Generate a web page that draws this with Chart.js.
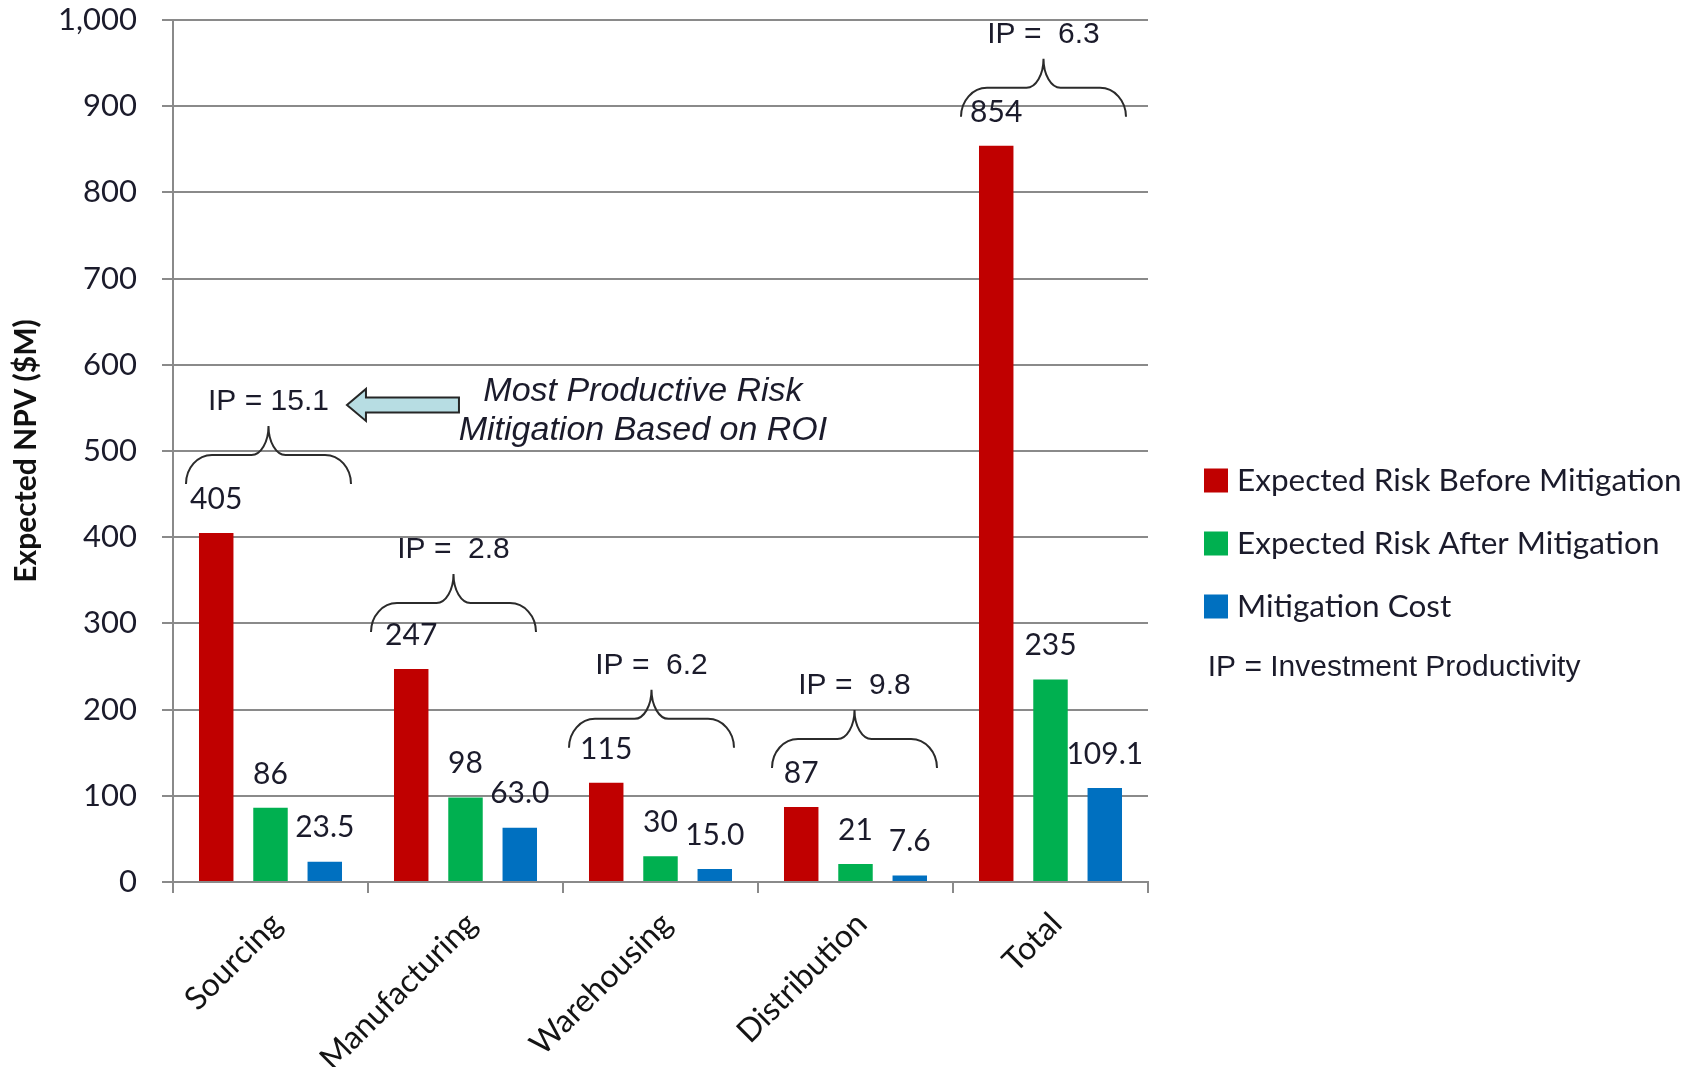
<!DOCTYPE html>
<html>
<head>
<meta charset="utf-8">
<title>Expected NPV by supply chain stage</title>
<script src="https://cdn.jsdelivr.net/npm/chart.js@4.4.1/dist/chart.umd.min.js"></script>
<style>
  html, body { margin: 0; padding: 0; background: #ffffff; }
  canvas { display: block; }
</style>
</head>
<body>
<canvas id="chart" width="1694" height="1075"></canvas>
<script>
// ---- data ----
const categories = ['Sourcing', 'Manufacturing', 'Warehousing', 'Distribution', 'Total'];
const seriesNames = ['Expected Risk Before Mitigation', 'Expected Risk After Mitigation', 'Mitigation Cost'];
const riskBefore = [405, 247, 115, 87, 854];
const riskAfter = [86, 98, 30, 21, 235];
const mitigationCost = [23.5, 63.0, 15.0, 7.6, 109.1];
const investmentProductivity = [15.1, 2.8, 6.2, 9.8, 6.3];
const valueDecimals = [0, 0, 1];
const yMin = 0;
const yMax = 1000;
const yStep = 100;
const axisTitle = 'Expected NPV ($M)';
const calloutLines = ['Most Productive Risk', 'Mitigation Based on ROI'];
const ipNote = 'IP = Investment Productivity';

// ---- styling ----
const seriesColors = ['#c00000', '#00b050', '#0070c0'];
const gridColor = '#8a8a8a';
const textColor = '#1b1b2b';
const bodyFont = 'Lato';
const noteFont = '"Liberation Sans", Arial, sans-serif';

// hand-placed nudges for the IP braces (pixels)
const braceNudgeX = [4, -6, -3, 5, -1];
const braceNudgeY = [-12, 0, 2, -2, 8];

// legend geometry
const legendFontSize = 31.5;
const legendPadding = 31.5;
const legendBoxWidth = 10.5;
const legendGap = 31.25;
const plotRight = 1148;

const measureCtx = document.createElement('canvas').getContext('2d');
measureCtx.font = legendFontSize + 'px ' + bodyFont;
const widestName = Math.max(...seriesNames.map(s => measureCtx.measureText(s).width));
const legendWidth = legendPadding + legendBoxWidth + legendFontSize / 2 + widestName + 10;
const rightPadding = Math.max(0, 1694 - plotRight - legendGap - legendWidth);

function ipText(v) {
  return 'IP = ' + (v < 10 ? ' ' : '') + v.toFixed(1);
}

// value labels, IP braces, callout arrow and note
const annotations = {
  id: 'annotations',
  afterDatasetsDraw(chart) {
    const ctx = chart.ctx;
    ctx.save();
    ctx.fillStyle = textColor;
    ctx.textAlign = 'center';
    ctx.textBaseline = 'middle';
    ctx.font = '30px ' + bodyFont;
    chart.data.datasets.forEach((ds, di) => {
      chart.getDatasetMeta(di).data.forEach((bar, i) => {
        ctx.fillText(ds.data[i].toFixed(valueDecimals[di]), bar.x, bar.y - 34);
      });
    });

    const first = chart.getDatasetMeta(0).data;
    const last = chart.getDatasetMeta(2).data;
    let sourcingLabel = null;
    first.forEach((rb, i) => {
      const bb = last[i];
      const L = rb.x - rb.width / 2 - 17 + braceNudgeX[i];
      const R = bb.x + bb.width / 2 + 5 + braceNudgeX[i];
      const T = rb.y - 37 + braceNudgeY[i], F = T - 29, K = F - 29, M = (L + R) / 2;
      const rx = 26, mx = 17, k = 0.552;
      ctx.strokeStyle = '#2b2b2b';
      ctx.lineWidth = 2;
      ctx.beginPath();
      ctx.moveTo(L, T);
      ctx.bezierCurveTo(L, T - k * (T - F), L + rx - k * rx, F, L + rx, F);
      ctx.lineTo(M - mx, F);
      ctx.bezierCurveTo(M - mx + k * mx, F, M, K + k * (F - K), M, K);
      ctx.bezierCurveTo(M, K + k * (F - K), M + mx - k * mx, F, M + mx, F);
      ctx.lineTo(R - rx, F);
      ctx.bezierCurveTo(R - rx + k * rx, F, R, T - k * (T - F), R, T);
      ctx.stroke();

      const label = ipText(investmentProductivity[i]);
      ctx.font = '30px ' + noteFont;
      ctx.fillStyle = textColor;
      ctx.fillText(label, M, K - 24);
      if (i === 0) {
        sourcingLabel = { right: M + ctx.measureText(label).width / 2, y: K - 24 };
      }
    });

    // arrow pointing at the best IP
    const tip = sourcingLabel.right + 18;
    const tail = tip + 112;
    const ay = sourcingLabel.y + 3;
    const sh = 7.5, hh = 16, hl = 19;
    ctx.beginPath();
    ctx.moveTo(tip, ay);
    ctx.lineTo(tip + hl, ay - hh);
    ctx.lineTo(tip + hl, ay - sh);
    ctx.lineTo(tail, ay - sh);
    ctx.lineTo(tail, ay + sh);
    ctx.lineTo(tip + hl, ay + sh);
    ctx.lineTo(tip + hl, ay + hh);
    ctx.closePath();
    ctx.fillStyle = '#b7dde3';
    ctx.fill();
    ctx.strokeStyle = '#262626';
    ctx.lineWidth = 2;
    ctx.stroke();

    ctx.fillStyle = textColor;
    ctx.font = 'italic 34px ' + noteFont;
    ctx.fillText(calloutLines[0], tail + 184, ay - 13);
    ctx.fillText(calloutLines[1], tail + 184, ay + 26);
    ctx.restore();
  },
  afterDraw(chart) {
    const boxes = chart.legend && chart.legend.legendHitBoxes;
    if (!boxes || !boxes.length) return;
    const hb = boxes[boxes.length - 1];
    const ctx = chart.ctx;
    ctx.save();
    ctx.fillStyle = textColor;
    ctx.font = '30px ' + noteFont;
    ctx.textAlign = 'left';
    ctx.textBaseline = 'middle';
    ctx.fillText(ipNote, hb.left - 3, hb.top + hb.height / 2 + 61);
    ctx.restore();
  }
};

const seriesData = [riskBefore, riskAfter, mitigationCost];

new Chart(document.getElementById('chart'), {
  type: 'bar',
  data: {
    labels: categories,
    datasets: seriesData.map((values, i) => ({
      label: seriesNames[i],
      data: values,
      backgroundColor: seriesColors[i],
      borderWidth: 0,
      categoryPercentage: 0.835,
      barPercentage: 0.635,
      yAxisID: 'y'
    }))
  },
  options: {
    responsive: false,
    animation: false,
    devicePixelRatio: 1,
    layout: { padding: { top: 20, bottom: 8, left: 0, right: rightPadding } },
    scales: {
      x: {
        grid: { display: true, drawOnChartArea: false, drawTicks: true, tickLength: 11, color: gridColor, lineWidth: 2, offset: true },
        border: { display: true, color: gridColor, width: 2 },
        ticks: {
          font: { family: bodyFont, size: 32 },
          color: '#141414',
          minRotation: 45,
          maxRotation: 45,
          autoSkip: false,
          padding: 12,
          labelOffset: 6
        },
        afterFit(scale) { scale.height = 185; }
      },
      y: {
        min: yMin,
        max: yMax,
        grid: { color: gridColor, lineWidth: 2, tickLength: 11, drawTicks: true },
        border: { display: true, color: gridColor, width: 2 },
        ticks: {
          stepSize: yStep,
          font: { family: bodyFont, size: 31 },
          color: textColor,
          padding: 25
        },
        title: {
          display: true,
          text: axisTitle,
          font: { family: bodyFont, size: 30, weight: 'bold' },
          color: '#111111',
          padding: { top: 8, bottom: 0 }
        },
        afterFit(scale) {
          scale.width = 173;
          // tick labels only need half their height above/below the range
          scale.paddingTop = 18;
          scale.paddingBottom = 18;
        }
      },
      gap: {
        type: 'linear',
        position: 'right',
        display: true,
        grid: { display: false },
        border: { display: false },
        ticks: { display: false },
        afterFit(scale) { scale.width = legendGap; }
      }
    },
    plugins: {
      tooltip: { enabled: false },
      legend: {
        position: 'right',
        align: 'center',
        maxWidth: legendWidth,
        labels: {
          usePointStyle: true,
          pointStyle: 'rect',
          boxWidth: legendBoxWidth,
          boxHeight: 24,
          padding: legendPadding,
          color: textColor,
          font: { family: bodyFont, size: legendFontSize }
        }
      }
    }
  },
  plugins: [annotations]
});
</script>
</body>
</html>
